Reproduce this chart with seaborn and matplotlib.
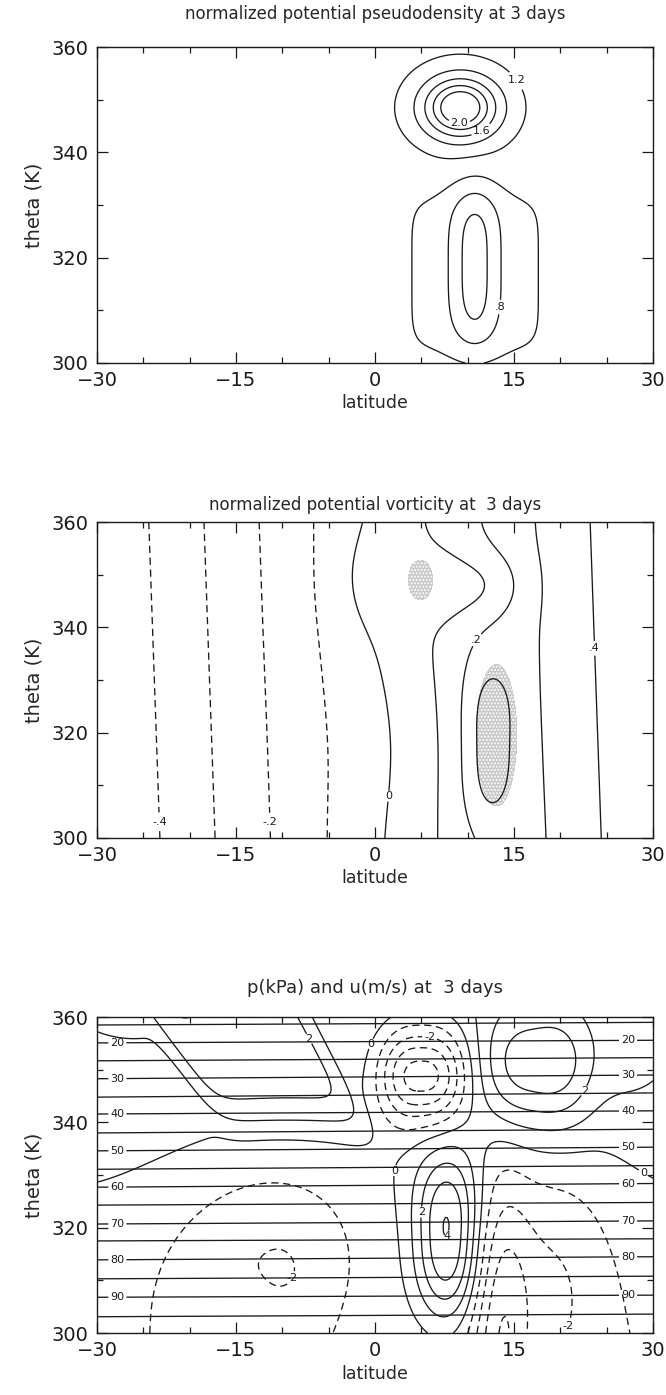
import numpy as np
import matplotlib
matplotlib.use("Agg")
import matplotlib.pyplot as plt
from matplotlib.ticker import MultipleLocator
import seaborn as sns

sns.set_theme(style="ticks")
plt.rcParams['font.family'] = ['DejaVu Sans']
plt.rcParams['hatch.color'] = '#606060'
plt.rcParams['hatch.linewidth'] = 1.0

# ---------------- grid ----------------
lat = np.linspace(-30, 30, 301)
theta = np.linspace(300, 360, 301)
LAT, TH = np.meshgrid(lat, theta)

# ---------------- panel 1 : pseudodensity (feature parameters) ----------------
pd_background = 1.1
pd_cx = [9.2, 10.75, 10.8]
pd_cy = [348.5, 318.5, 316.9]
pd_amp = [1.3, -0.447, -0.15]
pd_sx = [2.55, 1.93, 7.04]
pd_sy = [3.65, 12.67, 14.4]
pd_px = [2.0, 2.0, 6.0]
pd_py = [2.0, 3.5, 6.0]
pd_q = [0.8, 1.0, 1.0]
pd_shear = [0.0, 0.0, 0.0]
pd_levels = [0.6, 0.8, 1.0, 1.2, 1.4, 1.6, 1.8, 2.0]
pd_label_levels = [0.8, 1.2, 1.6, 2.0]
pd_label_pos = [(13.6, 310.6), (14.6, 352.8), (11.9, 342.9), (9.1, 345.7)]

# ---------------- panel 2 : potential vorticity ----------------
pv_slope = 0.0168      # per degree latitude
pv_tilt = -0.02        # deg latitude per K
pv_cx = [-0.5, 9.5, 12.0, 1.5]
pv_cy = [349.0, 348.0, 318.0, 318.0]
pv_amp = [0.045, -0.11, 0.142, -0.024]
pv_sx = [2.8, 5.0, 1.94, 5.0]
pv_sy = [7.0, 4.5, 13.0, 12.0]
pv_px = [2, 3, 2, 2]
pv_py = [2, 2, 3, 2]
pv_q = [1, 1, 1, 1]
pv_shear = [0, 0, 0, 0]
pv_levels = [-0.4, -0.3, -0.2, -0.1, 0.0, 0.1, 0.2, 0.3, 0.4]
pv_label_levels = [-0.4, -0.2, 0.0, 0.2, 0.4]
pv_label_pos = [(-24.4, 303), (-11.7, 303), (1.1, 308), (12.3, 336), (23.5, 336)]
# stippled (shaded) regions
sh_cx = [4.9, 13.1]
sh_cy = [349.0, 319.5]
sh_amp = [1.0, 1.0]
sh_sx = [1.1, 1.86]
sh_sy = [3.2, 11.4]
sh_px = [2, 2]
sh_py = [2, 2]
sh_q = [1, 1]
sh_shear = [0, 0]

# ---------------- panel 3 : pressure lines and zonal wind ----------------
p_levels = [15, 20, 25, 30, 35, 40, 45, 50, 55, 60, 65, 70, 75, 80, 85, 90, 95]
p_theta_west = [358.5, 355.1, 351.7, 348.3, 344.8, 341.6, 338.0, 334.6, 331.1,
                327.7, 324.3, 320.7, 317.5, 313.9, 310.3, 306.8, 303.1]
p_theta_east = [359.0, 355.6, 352.3, 349.0, 345.6, 342.2, 338.7, 335.3, 331.8,
                328.4, 324.8, 321.3, 317.9, 314.5, 310.8, 307.2, 303.6]
p_label_levels = [20, 30, 40, 50, 60, 70, 80, 90]

u_bg_slope = 0.025
u_bg_ref = 327.0
u_cx = [-14.5, -26.0, 5.0, 17.3, 26.0, 7.8, 13.5, 19.0, -12.5, -9.6]
u_cy = [356.0, 362.0, 349.0, 350.5, 352.0, 318.3, 298.0, 311.0, 316.0, 311.5]
u_amp = [1.98, 0.35, -5.0, 3.1, 0.75, 4.45, -2.7, -1.7, -1.65, -0.35]
u_sx = [7.5, 6.0, 3.5, 4.5, 5.0, 2.5, 2.2, 5.0, 7.5, 1.5]
u_sy = [14.4, 9.0, 6.6, 8.5, 9.0, 12.0, 22.0, 17.0, 13.0, 3.5]
u_px = [8, 2, 2.6, 3, 2, 2, 2, 2, 2, 2]
u_py = [5, 2, 2, 2, 2, 2.5, 2, 2, 2, 2]
u_q = [1, 1, 1, 1, 1, 1, 1, 1, 1, 1]
u_shear = [-0.35, 0, 0, 0, 0, 0, 0, 0, 0.12, 0]
u_levels = [-4, -3, -2, -1, 0, 1, 2, 3, 4]
u_label_levels = [2, 0, -2, 2, 0, 0, 2, 4, -2, -2]
u_label_pos = [(-7.0, 356.0), (-1.2, 355.5), (6.0, 357.5), (21.6, 347.0), (0.0, 331.5),
               (29.0, 330.5), (4.7, 323.0), (7.7, 318.5), (-8.5, 310.0), (20.6, 301.5)]


def blob_field(cx, cy, amp, sx, sy, px, py, q, shear):
    out = np.zeros_like(LAT)
    for i in range(len(cx)):
        x0 = cx[i] + shear[i] * (TH - cy[i])
        dx = np.abs((LAT - x0) / sx[i])
        dy = np.abs((TH - cy[i]) / sy[i])
        out += amp[i] * np.exp(-0.5 * (dx ** px[i] + dy ** py[i]) ** q[i])
    return out


pd_field = pd_background + blob_field(pd_cx, pd_cy, pd_amp, pd_sx, pd_sy, pd_px, pd_py, pd_q, pd_shear)
pv_field = pv_slope * (LAT - pv_tilt * (TH - 330.0)) + \
    blob_field(pv_cx, pv_cy, pv_amp, pv_sx, pv_sy, pv_px, pv_py, pv_q, pv_shear)
sh_field = blob_field(sh_cx, sh_cy, sh_amp, sh_sx, sh_sy, sh_px, sh_py, sh_q, sh_shear)
u_field = u_bg_slope * (TH - u_bg_ref) + \
    blob_field(u_cx, u_cy, u_amp, u_sx, u_sy, u_px, u_py, u_q, u_shear)

# pressure field: interpolate along theta between the read line positions
pw = np.array(p_theta_west)
pe = np.array(p_theta_east)
pl = np.array(p_levels, dtype=float)
p_field = np.zeros_like(LAT)
for j, la in enumerate(lat):
    f = (la + 30.0) / 60.0
    th_lines = pw + (pe - pw) * f
    th_ext = np.concatenate(([th_lines[0] + (th_lines[0] - th_lines[1])], th_lines,
                             [th_lines[-1] - (th_lines[-2] - th_lines[-1])]))
    p_ext = np.concatenate(([pl[0] - 5], pl, [pl[-1] + 5]))
    p_field[:, j] = np.interp(theta, th_ext[::-1], p_ext[::-1])


def fmt_pd(v):
    s = f"{v:.1f}"
    if s.startswith("0."):
        s = s[1:]
    return s


def fmt_pv(v):
    if abs(v) < 1e-9:
        return "0"
    return f"{v:.1f}".replace("0.", ".")


def fmt_int(v):
    return f"{int(round(v))}"


LW = 0.95
DASH = (0, (5.5, 3.5))


def draw_levels(ax, Z, levels, lab_levels, lab_pos, fmt, dashed_negative=True):
    for lv in levels:
        if not (Z.min() < lv < Z.max()):
            continue
        ls = DASH if (dashed_negative and lv < -1e-9) else 'solid'
        cs = ax.contour(LAT, TH, Z, levels=[lv], colors='k', linewidths=LW, linestyles=[ls])
        pos = [p for l, p in zip(lab_levels, lab_pos) if abs(l - lv) < 1e-9]
        if pos and len(cs.allsegs[0]) > 0:
            try:
                texts = ax.clabel(cs, manual=pos, inline=True, fmt=fmt, fontsize=8,
                                  inline_spacing=2)
                for t in texts:
                    t.set_rotation(0)
            except Exception:
                pass


fig = plt.figure(figsize=(6.66, 13.95), dpi=100)
left, width, height = 0.1456, 0.835, 0.2265
ax1 = fig.add_axes([left, 0.7398, width, height])
ax2 = fig.add_axes([left, 0.3993, width, height])
ax3 = fig.add_axes([left, 0.0444, width, height])


def style(ax, title, pad, tsize):
    ax.set_xlim(-30, 30)
    ax.set_ylim(300, 360)
    ax.set_xticks([-30, -15, 0, 15, 30])
    ax.set_yticks([300, 320, 340, 360])
    ax.xaxis.set_minor_locator(MultipleLocator(5))
    ax.yaxis.set_minor_locator(MultipleLocator(10))
    ax.tick_params(which='both', direction='in', top=True, right=True,
                   labelsize=14, colors='k', width=0.9)
    ax.tick_params(which='major', length=8, pad=6)
    ax.tick_params(which='minor', length=4)
    for s in ax.spines.values():
        s.set_linewidth(1.0)
        s.set_color('k')
    ax.set_xlabel('latitude', fontsize=12.5, labelpad=3)
    ax.set_ylabel('theta (K)', fontsize=14, labelpad=6)
    ax.set_title(title, fontsize=tsize, pad=pad)
    ax.set_facecolor('white')


# panel 1
draw_levels(ax1, pd_field, pd_levels, pd_label_levels, pd_label_pos, fmt_pd)
style(ax1, 'normalized potential pseudodensity at 3 days', 20, 12)

# panel 2
ax2.contourf(LAT, TH, sh_field, levels=[0.5, 10], colors=['#c8c8c8'], hatches=['.....'])
draw_levels(ax2, pv_field, pv_levels, pv_label_levels, pv_label_pos, fmt_pv)
style(ax2, 'normalized potential vorticity at  3 days', 9, 12)

# panel 3
p_lab_levels = p_label_levels + p_label_levels
p_lab_pos = [(-27.8, th) for th in pw[[1, 3, 5, 7, 9, 11, 13, 15]]] + \
            [(27.3, th) for th in pe[[1, 3, 5, 7, 9, 11, 13, 15]]]
draw_levels(ax3, p_field, p_levels, p_lab_levels, p_lab_pos, fmt_int, dashed_negative=False)
draw_levels(ax3, u_field, u_levels, u_label_levels, u_label_pos, fmt_int)
style(ax3, 'p(kPa) and u(m/s) at  3 days', 17, 13)

fig.savefig('out.png', dpi=100)
